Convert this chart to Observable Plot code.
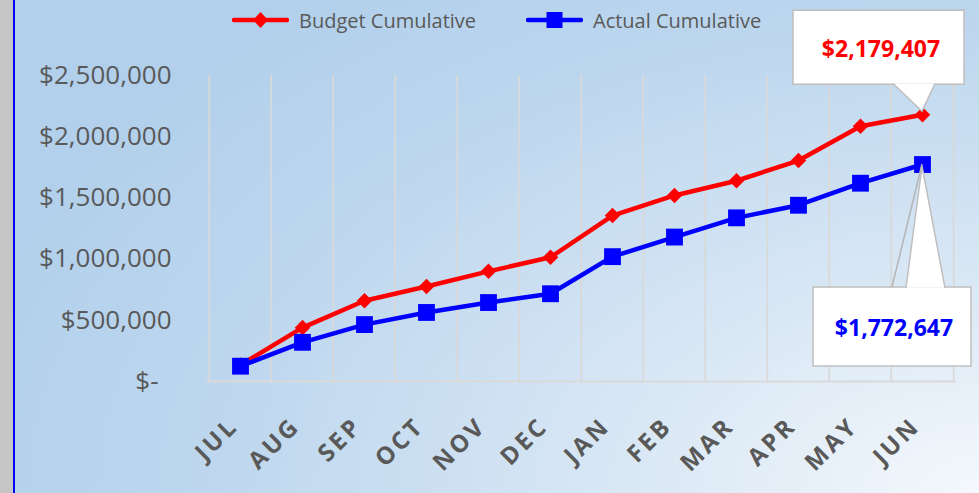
<!DOCTYPE html>
<html>
<head>
<meta charset="utf-8">
<script src="https://cdn.jsdelivr.net/npm/d3@7"></script>
<script src="https://cdn.jsdelivr.net/npm/@observablehq/plot@0.6"></script>
<style>
  html, body { margin: 0; padding: 0; }
  body { width: 979px; height: 493px; overflow: hidden; position: relative; font-family: "Open Sans", sans-serif; background: #c6c6c6; }
  #bg { position: absolute; left: 15px; top: 0; width: 964px; height: 493px;
        background: radial-gradient(ellipse 110% 130% at 100% 100%, #f4f8fc 0%, #e2edf7 22%, #cde0f2 50%, #bcd6ee 75%, #b2d0eb 100%); }
  #edge { position: absolute; left: 13px; top: 0; width: 2px; height: 493px; background: #0000ff; }
  #chart { position: absolute; left: 0; top: 0; }
  #legend { position: absolute; top: 6px; left: 0; height: 28px; width: 979px; }
  .item { position: absolute; top: 0; height: 28px; display: flex; align-items: center; }
  .item span { font-size: 20px; color: #595959; margin-left: 10px; white-space: nowrap; }
</style>
</head>
<body>
<div id="bg"></div>
<div id="edge"></div>
<div id="chart"></div>
<div id="legend"></div>
<script>
// ---- data ----
const months = ["JUL", "AUG", "SEP", "OCT", "NOV", "DEC", "JAN", "FEB", "MAR", "APR", "MAY", "JUN"];
const budgetCumulative = [135000, 440000, 660000, 776000, 900000, 1015000, 1356000, 1520000, 1640000, 1805000, 2086000, 2179407];
const actualCumulative = [125000, 320000, 465000, 564000, 645000, 717000, 1020000, 1180000, 1337000, 1440000, 1620000, 1772647];
const yTicks = [0, 500000, 1000000, 1500000, 2000000, 2500000];
const yTickLabels = ["$-\u2002", "$500,000", "$1,000,000", "$1,500,000", "$2,000,000", "$2,500,000"];
const seriesNames = ["Budget Cumulative", "Actual Cumulative"];
const budgetLabel = "$2,179,407";
const actualLabel = "$1,772,647";

// ---- layout ----
const W = 979, H = 493, ML = 206, MR = 23, MT = 75, MB = 112;
const step = (W - ML - MR) / months.length;
const RED = "#ff0000", BLUE = "#0000ff", GRAY = "#595959", GRID = "#d9d9d9";

const rows = months.map((m, i) => ({month: m, budget: budgetCumulative[i], actual: actualCumulative[i]}));

const plot = Plot.plot({
  width: W, height: H,
  marginLeft: ML, marginRight: MR, marginTop: MT, marginBottom: MB,
  style: {background: "transparent", overflow: "visible", color: GRAY, fontFamily: "Open Sans"},
  x: {type: "point", domain: months, padding: 0.5, axis: null},
  y: {domain: [0, 2500000], axis: null},
  marks: [
    Plot.ruleX(months, {x: d => d, dx: -step / 2, stroke: GRID, strokeWidth: 1.75}),
    Plot.ruleX([months[months.length - 1]], {x: d => d, dx: step / 2, stroke: GRID, strokeWidth: 1.75}),
    Plot.ruleY([0], {stroke: GRID, strokeWidth: 2}),
    Plot.axisY(yTicks, {tickSize: 0, tickPadding: 35, fontSize: 26, color: GRAY,
      tickFormat: d => yTickLabels[yTicks.indexOf(d)]}),
    Plot.text(months, {x: d => d, frameAnchor: "bottom", dy: 46, dx: -1, rotate: -45, textAnchor: "end",
      fontWeight: "bold", fontSize: 24, fill: GRAY, fontFamily: "Open Sans"}),
    Plot.line(rows, {x: "month", y: "budget", stroke: RED, strokeWidth: 4.5}),
    Plot.dot(rows, {x: "month", y: "budget", symbol: "diamond2", fill: RED, r: 7}),
    Plot.line(rows, {x: "month", y: "actual", stroke: BLUE, strokeWidth: 4.5}),
    Plot.dot(rows, {x: "month", y: "actual", symbol: "square", fill: BLUE, r: 9.5})
  ]
});
document.getElementById("chart").appendChild(plot);

// letter-spacing on month labels
d3.select(plot).selectAll("g[aria-label='text'] text").style("letter-spacing", "3px");

// ---- callouts, positioned with the plot's scales ----
const sx = plot.scale("x"), sy = plot.scale("y");
const svg = d3.select(plot);
function callout(month, value, color, label, box, tri, extraLines, textPos) {
  const px = sx.apply(month), py = sy.apply(value);
  const g = svg.append("g").attr("transform", `translate(${px},${py})`);
  g.append("rect").attr("x", box[0]).attr("y", box[1]).attr("width", box[2]).attr("height", box[3])
    .attr("fill", "#fff").attr("stroke", "#bfbfbf").attr("stroke-width", 1.5);
  extraLines.forEach(l => g.append("line").attr("x1", l[0]).attr("y1", l[1]).attr("x2", l[2]).attr("y2", l[3])
    .attr("stroke", "#b5b5b5").attr("stroke-width", 1.5));
  g.append("path").attr("d", `M${tri[0][0]},${tri[0][1]}L${tri[1][0]},${tri[1][1]}L${tri[2][0]},${tri[2][1]}Z`)
    .attr("fill", "#fff").attr("stroke", "none");
  g.append("path").attr("d", `M${tri[0][0]},${tri[0][1]}L${tri[1][0]},${tri[1][1]}L${tri[2][0]},${tri[2][1]}`)
    .attr("fill", "none").attr("stroke", "#bfbfbf").attr("stroke-width", 1.5);
  g.append("text").attr("x", textPos[0]).attr("y", textPos[1]).attr("text-anchor", "middle")
    .attr("dominant-baseline", "central").attr("fill", color).attr("font-weight", "bold")
    .attr("font-size", 23).attr("font-family", "Open Sans").text(label);
}
const last = months[months.length - 1];
callout(last, budgetCumulative[11], RED, budgetLabel,
  [-129, -104, 171, 74], [[-29, -30.75], [0, -3], [13, -30.75]], [], [-41, -66]);
callout(last, actualCumulative[11], BLUE, actualLabel,
  [-109, 123, 158, 79], [[-16, 123.75], [0, 2], [23, 123.75]], [[-30, 123, 0, 0]], [-28, 163]);

// ---- legend ----
const legend = d3.select("#legend");
const items = [
  {name: seriesNames[0], color: RED, sym: "diamond", left: 232},
  {name: seriesNames[1], color: BLUE, sym: "square", left: 526}
];
items.forEach(it => {
  const div = legend.append("div").attr("class", "item").style("left", it.left + "px");
  const s = div.append("svg").attr("width", 57).attr("height", 28);
  s.append("line").attr("x1", 2).attr("x2", 55).attr("y1", 14).attr("y2", 14)
    .attr("stroke", it.color).attr("stroke-width", 4.5).attr("stroke-linecap", "round");
  if (it.sym === "diamond") {
    s.append("path").attr("d", "M28.5,6L36,14L28.5,22L21,14Z").attr("fill", it.color);
  } else {
    s.append("rect").attr("x", 20.5).attr("y", 6).attr("width", 16).attr("height", 16).attr("fill", it.color);
  }
  div.append("span").text(it.name);
});
</script>
</body>
</html>
